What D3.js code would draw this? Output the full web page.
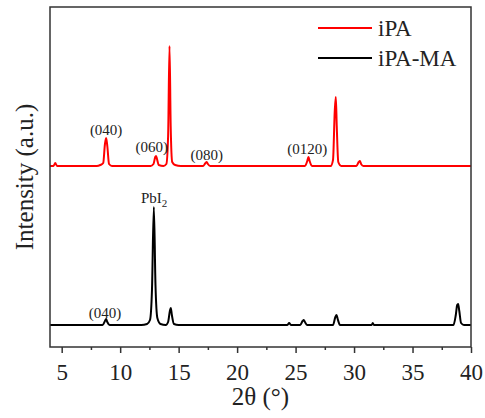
<!DOCTYPE html>
<html><head><meta charset="utf-8">
<script src="https://cdn.jsdelivr.net/npm/d3@7"></script>
<style>body{margin:0;background:#fff}svg{display:block}</style>
</head><body><svg id="c" width="485" height="418" font-family="Liberation Serif"></svg>
<script>
// 2θ (°) and intensity (baseline-relative, a.u.)
const seriesNames = ["iPA", "iPA-MA"];
const seriesColors = ["#ff0000", "#000000"];
const seriesOffsets = [181, 22];
const iPA = [[4,0],[4.3,0],[4.45,3],[4.6,0],[8.0,0],[8.3,1],[8.55,3],[8.7,22],[8.8,28],[8.9,20],[9.05,2],[9.3,0],[12.6,0],[12.85,2],[13.0,9],[13.07,10],[13.15,7],[13.3,1],[13.7,0],[13.95,2],[14.1,30],[14.22,120],[14.32,40],[14.45,4],[14.7,1],[15.2,0],[17.1,0],[17.3,3],[17.4,4],[17.5,2],[17.7,0],[25.8,0],[26.0,5],[26.1,9],[26.2,5],[26.4,0],[28.0,0],[28.2,6],[28.35,55],[28.44,69],[28.52,40],[28.65,4],[28.9,0],[30.2,0],[30.4,4],[30.5,5],[30.6,2],[30.8,0],[40,0]];
const iPAMA = [[4,0],[8.5,0],[8.7,4],[8.8,6],[8.9,3],[9.1,0],[11.8,0],[12.3,1],[12.55,5],[12.72,35],[12.88,118],[13.02,40],[13.18,7],[13.45,1],[13.9,0],[14.1,3],[14.25,14],[14.33,17],[14.42,10],[14.6,1],[15.0,0],[24.3,0],[24.45,2],[24.6,0],[25.4,0],[25.6,4],[25.7,5],[25.8,3],[26.0,0],[28.2,0],[28.4,8],[28.5,10],[28.6,6],[28.8,0],[31.5,0],[31.6,2],[31.7,0],[38.5,0],[38.7,10],[38.82,20],[38.9,21],[39.0,14],[39.15,2],[39.4,0],[40,0]];
const xTicks = [5,10,15,20,25,30,35,40];
const xMinor = [7.5,12.5,17.5,22.5,27.5,32.5,37.5];
// annotations: [label, 2θ, intensity position (absolute)]
const annotations = [["(040)",8.8,212],["(060)",12.7,195],["(080)",17.4,187],["(0120)",26.0,193],["(040)",8.7,29]];

const FONT = "Liberation Serif";
const svg = d3.select("#c");
const m = {l:50, r:471, t:7, b:347};
const x = d3.scaleLinear().domain([4,40]).range([m.l, m.r]);
const y = d3.scaleLinear().domain([0,340]).range([m.b, m.t]);

const line = d3.line().x(d=>x(d[0])).y(d=>y(d[1])).curve(d3.curveMonotoneX);
[iPA, iPAMA].forEach((s,i)=>{
  svg.append("path").datum(s.map(p=>[p[0], p[1]+seriesOffsets[i]]))
    .attr("d", line).attr("fill","none").attr("stroke",seriesColors[i]).attr("stroke-width",2).attr("stroke-linejoin","round");
});

// frame
svg.append("rect").attr("x",m.l).attr("y",m.t).attr("width",m.r-m.l).attr("height",m.b-m.t)
  .attr("fill","none").attr("stroke","#333").attr("stroke-width",1.5);

// x axis
const ax = svg.append("g").attr("transform",`translate(0,${m.b})`)
  .call(d3.axisBottom(x).tickValues(xTicks).tickSize(6).tickFormat(d3.format("d")));
ax.attr("font-family",FONT).attr("font-size",23);
ax.select(".domain").remove();
ax.selectAll("line").attr("stroke","#333").attr("stroke-width",1.5);
ax.selectAll("text").attr("font-family",FONT).attr("font-size",23).attr("fill","#222").attr("dy","1.05em");
const axm = svg.append("g").attr("transform",`translate(0,${m.b})`)
  .call(d3.axisBottom(x).tickValues(xMinor).tickSize(3).tickFormat(""));
axm.select(".domain").remove();
axm.selectAll("line").attr("stroke","#333").attr("stroke-width",1.5);

svg.append("text").attr("x",(m.l+m.r)/2).attr("y",405).attr("text-anchor","middle")
  .attr("font-family",FONT).attr("font-size",25).attr("fill","#222").text("2θ (°)");
svg.append("text").attr("transform",`translate(33,${(m.t+m.b)/2}) rotate(-90)`).attr("text-anchor","middle")
  .attr("font-family",FONT).attr("font-size",25).attr("fill","#222").text("Intensity (a.u.)");

// annotations
annotations.forEach(a=>{
  svg.append("text").attr("x",x(a[1])).attr("y",y(a[2])).attr("text-anchor","middle")
    .attr("font-family",FONT).attr("font-size",15).attr("fill","#222").text(a[0]);
});
const pb = svg.append("text").attr("x",x(12.9)).attr("y",y(144)).attr("text-anchor","middle")
  .attr("font-family",FONT).attr("font-size",15).attr("fill","#222");
pb.append("tspan").text("PbI");
pb.append("tspan").attr("font-size",11).attr("dy",4).text("2");

// legend
seriesNames.forEach((n,i)=>{
  const ly = 28 + i*30;
  svg.append("line").attr("x1",318).attr("x2",372).attr("y1",ly).attr("y2",ly)
    .attr("stroke",seriesColors[i]).attr("stroke-width",2);
  svg.append("text").attr("x",378).attr("y",ly+8).attr("font-family",FONT).attr("font-size",23).attr("fill","#222").text(n);
});
</script></body></html>
